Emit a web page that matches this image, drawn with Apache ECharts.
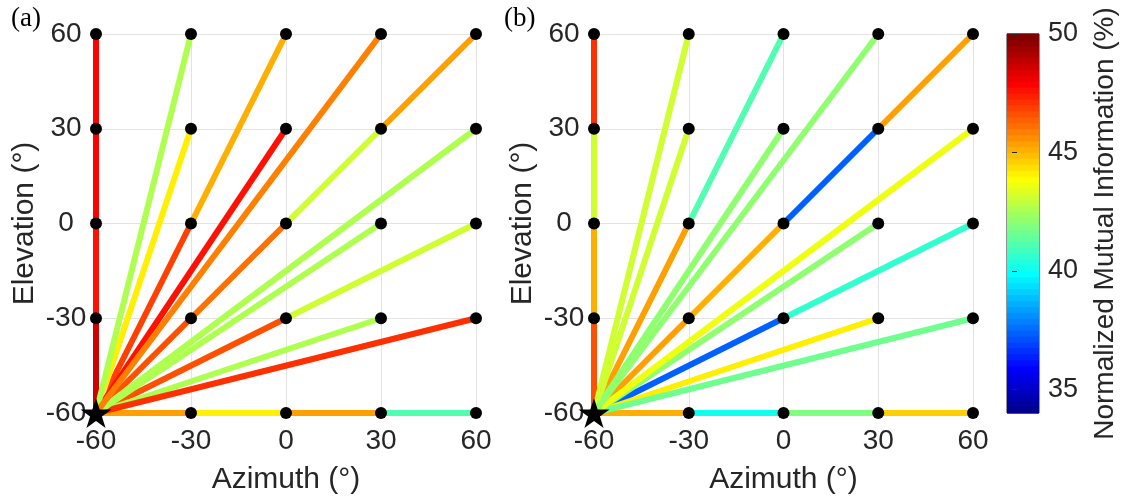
<!DOCTYPE html>
<html>
<head>
<meta charset="utf-8">
<script src="https://cdn.jsdelivr.net/npm/echarts@6/dist/echarts.min.js"></script>
<style>
html,body{margin:0;padding:0;background:#fff;}
#chart{width:1121px;height:502px;}
</style>
</head>
<body>
<div id="chart"></div>
<script>
// Target grid: azimuth / elevation in degrees
const azimuths = [-60, -30, 0, 30, 60];
const elevations = [-60, -30, 0, 30, 60];
const axisTicks = [-60, -30, 0, 30, 60];
const source = [-60, -60];

// Normalized mutual information (%) for each target,
// rows = elevation -60 → 60, columns = azimuth -60 → 60 (source cell is null)
const nmiA = [
  [null, 45.4, 44.2, 45.4, 41.0],
  [48.6, 46.5, 46.5, 42.5, 47.0],
  [47.5, 46.8, 46.0, 42.5, 43.2],
  [47.8, 44.0, 47.5, 43.0, 42.5],
  [47.8, 42.5, 45.0, 45.8, 45.4]
];
const nmiB = [
  [null, 45.1, 40.0, 41.8, 44.6],
  [46.5, 45.4, 37.4, 44.0, 41.5],
  [45.0, 45.4, 45.2, 42.0, 40.5],
  [43.0, 43.0, 42.0, 37.4, 43.5],
  [47.0, 43.0, 41.0, 42.0, 45.4]
];

const colorRange = [34, 50];
const colorTicks = [35, 40, 45, 50];
const panelLabels = ['(a)', '(b)'];

// 64-level jet colormap
function jet(m) {
  const n = Math.ceil(m / 4);
  const u = [];
  for (let k = 1; k <= n; k++) u.push(k / n);
  for (let k = 1; k < n; k++) u.push(1);
  for (let k = n; k >= 1; k--) u.push(k / n);
  const off = Math.ceil(n / 2) - (m % 4 === 1 ? 1 : 0);
  const J = Array.from({ length: m }, () => [0, 0, 0]);
  for (let k = 1; k <= u.length; k++) {
    const g = off + k, r = g + n, b = g - n;
    if (g >= 1 && g <= m) J[g - 1][1] = u[k - 1];
    if (r >= 1 && r <= m) J[r - 1][0] = u[k - 1];
    if (b >= 1 && b <= m) J[b - 1][2] = u[k - 1];
  }
  return J.map(c => 'rgb(' + c.map(x => Math.round(x * 255)).join(',') + ')');
}
const cmap = jet(64);
function colorOf(v) {
  let i = Math.floor((v - colorRange[0]) / (colorRange[1] - colorRange[0]) * cmap.length);
  i = Math.max(0, Math.min(cmap.length - 1, i));
  return cmap[i];
}
function gcd(a, b) { return b === 0 ? a : gcd(b, a % b); }

// Each target is reached by a segment from the previous collinear target (or the source)
function segments(grid) {
  const out = [];
  const step = azimuths[1] - azimuths[0];
  for (let r = 0; r < elevations.length; r++) {
    for (let c = 0; c < azimuths.length; c++) {
      const v = grid[r][c];
      if (v == null) continue;
      const dx = (azimuths[c] - source[0]) / step;
      const dy = (elevations[r] - source[1]) / step;
      const g = gcd(dx, dy);
      const px = azimuths[c] - (dx / g) * step;
      const py = elevations[r] - (dy / g) * step;
      out.push({ coords: [[px, py], [azimuths[c], elevations[r]]], value: v,
                 lineStyle: { color: colorOf(v) } });
    }
  }
  return out;
}
function targets(grid) {
  const out = [];
  for (let r = 0; r < elevations.length; r++)
    for (let c = 0; c < azimuths.length; c++)
      if (grid[r][c] != null) out.push([azimuths[c], elevations[r]]);
  return out;
}

const FONT = '"Liberation Sans", Arial, Helvetica, sans-serif';
const TXT = '#262626';
const STAR = 'path://M0,-100L22.45,-30.9L95.1,-30.9L36.3,11.8L58.8,80.9L0,38.2L-58.8,80.9L-36.3,11.8L-95.1,-30.9L-22.45,-30.9Z';

const grids = [
  { left: 96, top: 34, width: 380, height: 379 },
  { left: 594, top: 34, width: 379, height: 379 },
  { left: 1007, top: 34, width: 32, height: 379, show: true, borderColor: '#262626', borderWidth: 1, backgroundColor: 'transparent' }
];

function xAx(i) {
  return {
    type: 'value', gridIndex: i, min: axisTicks[0], max: axisTicks[axisTicks.length - 1], interval: 30,
    axisLine: { show: false }, axisTick: { show: false },
    splitLine: { show: true, lineStyle: { color: '#e3e3e3', width: 1 } },
    axisLabel: { fontSize: 28, color: TXT, fontFamily: FONT, margin: 14 },
    name: 'Azimuth (°)', nameLocation: 'middle', nameGap: 52,
    nameTextStyle: { fontSize: 30, color: TXT, fontFamily: FONT }
  };
}
function yAx(i) {
  return {
    type: 'value', gridIndex: i, min: axisTicks[0], max: axisTicks[axisTicks.length - 1], interval: 30,
    axisLine: { show: false }, axisTick: { show: false },
    splitLine: { show: true, lineStyle: { color: '#e3e3e3', width: 1 } },
    axisLabel: { fontSize: 28, color: TXT, fontFamily: FONT, margin: 30, align: 'center' },
    name: 'Elevation (°)', nameLocation: 'middle', nameGap: 56, nameRotate: 90,
    nameTextStyle: { fontSize: 30, color: TXT, fontFamily: FONT }
  };
}

const bands = cmap.map((c, i) => {
  const w = (colorRange[1] - colorRange[0]) / cmap.length;
  return [colorRange[0] + i * w, colorRange[0] + (i + 1) * w, i];
});

function panelSeries(grid, idx) {
  return [
    { type: 'lines', coordinateSystem: 'cartesian2d', xAxisIndex: idx, yAxisIndex: idx,
      polyline: false, silent: true, z: 2,
      lineStyle: { width: 6, opacity: 1, cap: 'butt' },
      data: segments(grid) },
    { type: 'scatter', xAxisIndex: idx, yAxisIndex: idx, symbol: 'circle', symbolSize: 12,
      itemStyle: { color: '#000', opacity: 1 }, silent: true, z: 3, data: targets(grid) },
    { type: 'scatter', xAxisIndex: idx, yAxisIndex: idx, symbol: STAR, symbolSize: [31, 30],
      itemStyle: { color: '#000', opacity: 1 }, silent: true, z: 4, data: [source] }
  ];
}

const option = {
  animation: false,
  backgroundColor: '#fff',
  grid: grids,
  xAxis: [xAx(0), xAx(1),
    { type: 'value', gridIndex: 2, min: 0, max: 1, show: false }],
  yAxis: [yAx(0), yAx(1),
    // colorbar scale: shifted 5px into the bar so the outward ticks sit inside its right edge
    { type: 'value', gridIndex: 2, min: colorRange[0], max: colorRange[1], position: 'right', offset: -5, z: 10,
      axisLine: { show: false },
      axisTick: { show: true, inside: false, length: 5, lineStyle: { color: '#262626' }, customValues: colorTicks },
      axisLabel: { fontSize: 27, color: TXT, fontFamily: FONT, margin: 14, customValues: colorTicks },
      splitLine: { show: false },
      name: 'Normalized Mutual Information (%)', nameLocation: 'middle', nameGap: 57, nameRotate: 90,
      nameTextStyle: { fontSize: 28, color: TXT, fontFamily: FONT } }],
  graphic: [
    { type: 'text', left: 11, top: 5, style: { text: panelLabels[0], font: '27px "Liberation Serif", "Times New Roman", serif', fill: '#000' } },
    { type: 'text', left: 504, top: 5, style: { text: panelLabels[1], font: '27px "Liberation Serif", "Times New Roman", serif', fill: '#000' } }
  ],
  series: [
    ...panelSeries(nmiA, 0),
    ...panelSeries(nmiB, 1),
    { type: 'custom', xAxisIndex: 2, yAxisIndex: 2, silent: true, z: 0,
      data: bands,
      renderItem: function (params, api) {
        const lo = api.value(0), hi = api.value(1), i = api.value(2);
        const p1 = api.coord([0, lo]);
        const p2 = api.coord([1, hi]);
        return { type: 'rect',
          shape: { x: p1[0], y: p2[1] - 0.5, width: p2[0] - p1[0], height: p1[1] - p2[1] + 1 },
          style: { fill: cmap[i] } };
      } }
  ]
};

const chart = echarts.init(document.getElementById('chart'), null, { renderer: 'canvas' });
chart.setOption(option);
</script>
</body>
</html>
